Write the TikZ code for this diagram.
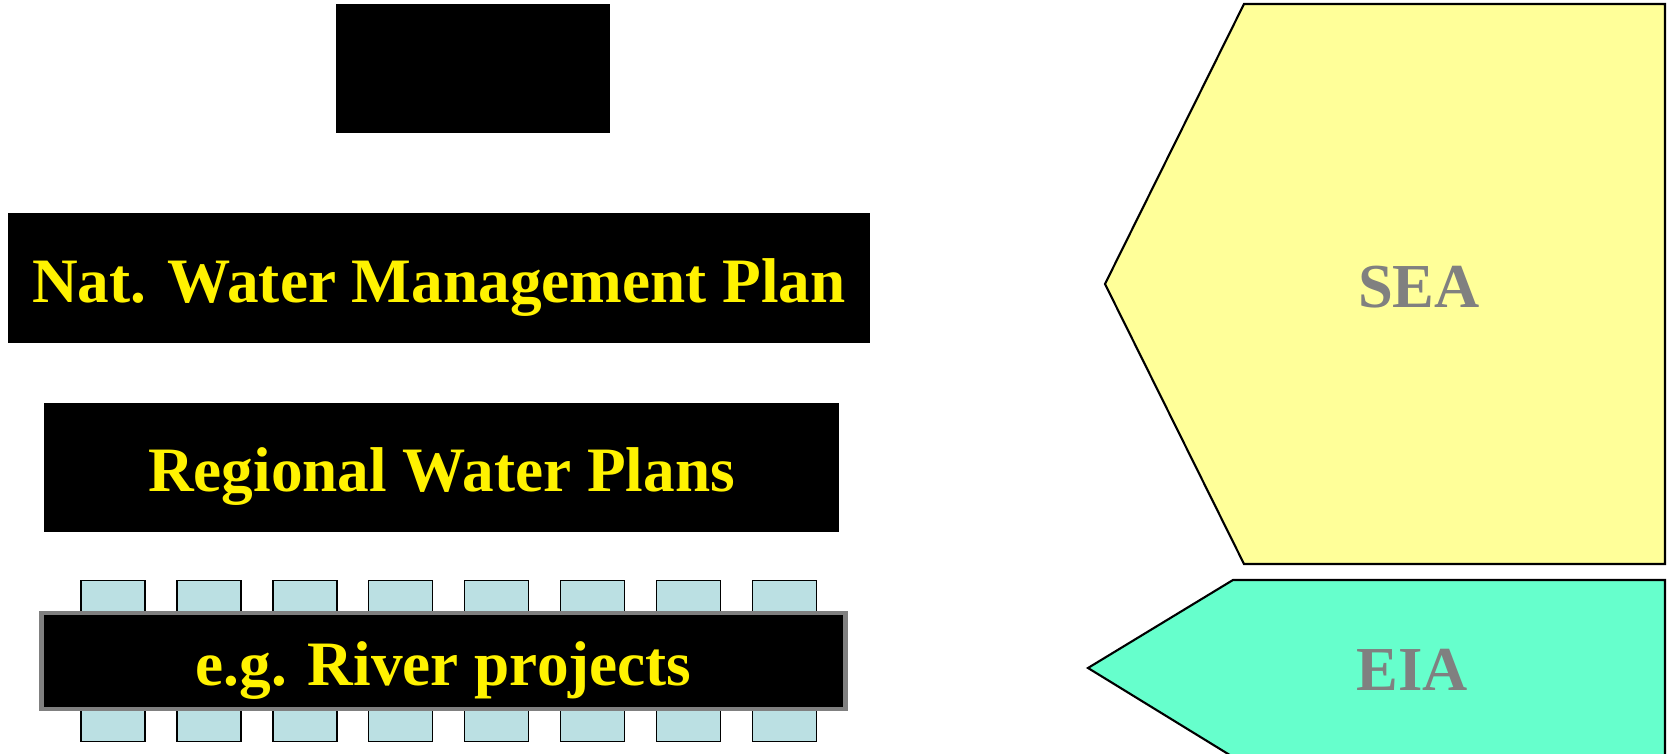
\documentclass[tikz,border=0pt]{standalone}
\usepackage{fontspec}
\setmainfont{Liberation Serif}
\usetikzlibrary{positioning}

\definecolor{seayellow}{HTML}{FFFF99}
\definecolor{eiagreen}{HTML}{66FFCC}
\definecolor{pegblue}{HTML}{BBE0E3}

\begin{document}
\begin{tikzpicture}[x=0.1mm, y=-0.1mm, node distance=9.59mm, every node/.style={inner sep=0pt, outer sep=0pt},
    plan/.style={rectangle, fill=black, text=yellow, text height=4.9mm, text depth=0pt, font=\fontsize{18}{21}\selectfont\bfseries},
    peg/.style={rectangle, draw=black, fill=pegblue, line width=0.4pt, minimum width=6.4mm, minimum height=16.1mm},
    stage/.style={draw=black, line width=0.6pt},
    stagelabel/.style={text=gray, font=\fontsize{17.8}{21}\selectfont\bfseries}]

    \useasboundingbox (0,0) rectangle (1669,754);

    % Pegs behind the project bar
    \node[peg] (peg1) at (113,661) {};
    \node[peg, right of=peg1] (peg2) {};
    \node[peg, right of=peg2] (peg3) {};
    \node[peg, right of=peg3] (peg4) {};
    \node[peg, right of=peg4] (peg5) {};
    \node[peg, right of=peg5] (peg6) {};
    \node[peg, right of=peg6] (peg7) {};
    \node[peg, right of=peg7] (peg8) {};

    % Planning levels
    \node[plan, minimum width=27.4mm, minimum height=12.9mm] (top) at (473,68.5) {};
    \node[plan, minimum width=86.2mm, minimum height=13.0mm] (nat) at (439,278) {Nat. Water Management Plan};
    \node[plan, minimum width=79.5mm, minimum height=12.9mm] (reg) at (441.5,467.5) {Regional Water Plans};
    \node[plan, draw=gray, line width=1.4pt, minimum width=80.4mm, minimum height=9.6mm] (proj) at (443.5,661) {e.g. River projects};

    % Assessment arrows
    \draw[stage, fill=seayellow] (1244,4) -- (1665,4) -- (1665,564) -- (1244,564) -- (1105,284) -- cycle;
    \node[stagelabel] (sea) at (1419,287) {SEA};

    \draw[stage, fill=eiagreen] (1233,580) -- (1665,580) -- (1665,757) -- (1233,757) -- (1088,668) -- cycle;
    \node[stagelabel] (eia) at (1412,670) {EIA};

\end{tikzpicture}
\end{document}
